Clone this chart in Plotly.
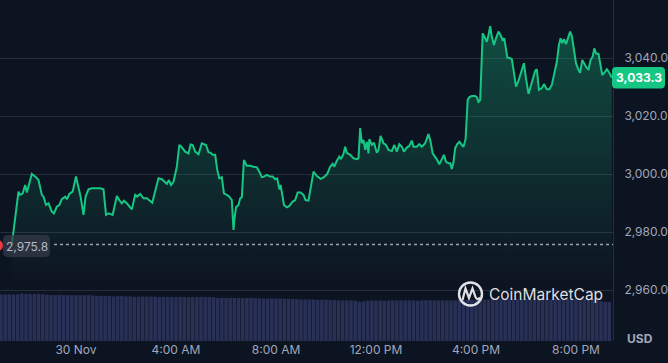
import plotly.graph_objects as go

# ---------------- data ----------------
# minutes relative to 30 Nov 00:00
price_minutes = [
    -154, -138, -134, -128, -122, -118, -106, -96, -90, -82, -78, -72, -66, -58, -53, -46, -40, -34, -26, -22, -16, -8,
    0, 6, 11, 18, 23, 30, 38, 58, 66, 72, 78, 88, 98, 104, 110, 115, 122, 134, 142, 147, 154, 162, 170, 183, 190, 198,
    206, 214, 218, 223, 228, 234, 242, 248, 254, 262, 270, 275, 280, 286, 294, 302, 312, 318, 323, 328, 334, 339, 344,
    350, 355, 362, 368, 374, 378, 380, 384, 390, 394, 398, 403, 410, 418, 426, 434, 440, 446, 451, 458, 466, 472, 478,
    483, 488, 491, 496, 499, 506, 512, 520, 526, 532, 539, 546, 551, 558, 562, 570, 578, 587, 595, 603, 610, 616, 620,
    626, 632, 636, 642, 646, 650, 658, 666, 674, 678, 682, 686, 690, 694, 698, 702, 704, 710, 715, 722, 726, 731, 738,
    744, 750, 758, 764, 770, 776, 782, 787, 794, 800, 806, 810, 818, 824, 830, 838, 846, 851, 856, 862, 867, 872, 878,
    883, 888, 894, 898, 902, 906, 910, 915, 920, 926, 930, 935, 940, 944, 950, 958, 962, 966, 970, 972, 976, 982, 986,
    990, 994, 998, 1003, 1008, 1014, 1019, 1024, 1028, 1032, 1035, 1042, 1046, 1050, 1056, 1062, 1067, 1075, 1080, 1086,
    1091, 1096, 1102, 1106, 1111, 1118, 1123, 1130, 1136, 1142, 1147, 1154, 1159, 1163, 1167, 1171, 1176, 1182, 1186,
    1190, 1195, 1200, 1206, 1210, 1215, 1220, 1226, 1230, 1235, 1240, 1244, 1248, 1254, 1258, 1263, 1270, 1274, 1280,
    1286,
]
price_values = [
    2975.8, 2994.0, 2992.9, 2993.4, 2996.3, 2993.7, 3000.1, 2999.0, 2998.0, 2992.9, 2992.3, 2989.4, 2990.0, 2987.1,
    2986.5, 2988.8, 2989.4, 2991.4, 2992.3, 2991.4, 2993.2, 2994.0,
    2999.2, 2995.7, 2992.3, 2986.0, 2992.3, 2994.8, 2995.2, 2995.2, 2994.8, 2986.0, 2986.5, 2986.0, 2992.5, 2991.1,
    2990.0, 2990.9, 2990.0, 2987.9, 2992.9, 2992.3, 2993.2, 2991.7, 2991.7, 2990.2, 2994.6, 2998.6,
    2998.3, 2997.4, 2996.7, 2998.0, 2996.3, 2997.4, 3002.6, 3010.1, 3009.3, 3007.8, 3007.2, 3010.3, 3010.1, 3007.8,
    3006.9, 3010.7, 3010.1, 3007.6, 3007.4, 3006.7, 3006.7, 3001.5, 2998.6,
    2999.0, 2993.4, 2992.9, 2992.3, 2991.1, 2980.8, 2984.2, 2988.6, 2989.4, 2991.7, 2992.1, 3004.9, 3002.9, 3002.9,
    3002.6, 3002.4, 3000.9, 2999.0, 2999.2, 2999.8, 2999.2, 2999.2, 2998.3,
    2998.6, 2994.8, 2996.3, 2992.1, 2989.4, 2988.6, 2989.1, 2990.6, 2991.1, 2993.7, 2993.7, 2992.9, 2991.1, 2990.9,
    2994.6, 3000.9, 2999.4, 2998.4, 2999.0, 3000.1, 3002.6, 3003.6, 3002.6,
    3004.7, 3006.1, 3005.2, 3007.0, 3009.5, 3007.4, 3006.7, 3005.5, 3005.2, 3005.5, 3015.9, 3010.7, 3011.8, 3008.4,
    3011.2, 3007.2, 3012.1, 3010.1, 3010.9, 3007.4, 3008.4, 3013.2, 3010.7,
    3010.1, 3008.4, 3008.0, 3010.1, 3007.8, 3010.4, 3009.5, 3007.8, 3009.2, 3009.8, 3011.6, 3009.5, 3009.5, 3010.4,
    3009.5, 3010.7, 3013.9, 3011.2, 3007.2, 3006.1, 3004.9, 3003.4, 3005.5,
    3006.7, 3004.3, 3003.8, 3003.8, 3001.8, 3004.3, 3009.0, 3010.4, 3011.2, 3010.1, 3009.5, 3012.1, 3025.6, 3026.6,
    3027.0, 3027.0, 3026.6, 3025.0, 3025.6, 3033.1, 3048.6, 3046.9, 3045.7,
    3048.0, 3051.1, 3047.4, 3044.6, 3046.9, 3049.2, 3048.0, 3046.3, 3046.9, 3043.4, 3040.3, 3040.0, 3039.7, 3036.0,
    3030.2, 3032.3, 3034.8, 3038.3, 3033.1, 3027.7,
    3030.2, 3033.1, 3035.7, 3036.2, 3029.1, 3029.7, 3031.1, 3029.3, 3029.3, 3030.8, 3033.7, 3038.8, 3044.6, 3046.9,
    3045.2, 3046.6, 3044.9, 3048.0, 3049.2,
    3047.7, 3042.9, 3038.3, 3036.0, 3035.0, 3039.4, 3038.3, 3036.6, 3036.2, 3039.4, 3040.6, 3043.4, 3041.7, 3041.5,
    3038.3, 3034.2, 3035.4, 3036.2, 3035.0,
    3033.3,
]

# volume bars every 10 minutes, starting 21:00 on 29 Nov (billions USD)
volume_minutes = list(range(-180, 1290, 10))
volume_values = [
    15.0, 15.0, 15.0, 15.0, 15.1, 15.3,
    15.2, 15.2, 15.2, 15.2, 15.1, 14.9,
    14.8, 14.8, 14.9, 14.8, 14.8, 14.8,
    14.8, 14.7, 14.8, 14.8, 14.7, 14.6,
    14.5, 14.5, 14.5, 14.4, 14.5, 14.5,
    14.4, 14.4, 14.3, 14.3, 14.4, 14.3,
    14.3, 14.3, 14.2, 14.2, 14.2, 14.2,
    14.2, 14.2, 14.2, 14.1, 14.2, 14.2,
    14.2, 14.2, 14.2, 14.1, 13.9, 13.9,
    13.9, 13.9, 13.9, 13.9, 13.8, 13.9,
    13.9, 13.8, 13.8, 13.7, 13.7, 13.7,
    13.7, 13.7, 13.6, 13.6, 13.6, 13.5,
    13.4, 13.4, 13.4, 13.4, 13.3, 13.3,
    13.3, 13.2, 13.2, 13.1, 13.1, 13.1,
    13.1, 13.0, 12.7, 12.8, 13.0, 13.1,
    13.1, 13.1, 13.0, 13.1, 13.1, 13.1,
    13.1, 13.1, 13.1, 13.1, 13.0, 13.1,
    13.1, 13.1, 13.1, 13.1, 13.1, 13.1,
    13.1, 13.1, 13.2, 13.2, 13.2, 13.2,
    13.2, 13.2, 13.3, 13.3, 13.4, 13.4,
    13.5, 13.5, 13.5, 13.5, 13.5, 13.6,
    13.6, 13.5, 13.6, 13.5, 13.5, 13.6,
    13.5, 13.6, 13.5, 13.5, 13.6, 13.5,
    13.5, 13.5, 13.5, 13.4, 13.4, 13.3,
    12.8, 12.6, 12.6,
]

tick_minutes = [0, 240, 480, 720, 960, 1200]
tick_labels = ["30 Nov", "4:00 AM", "8:00 AM", "12:00 PM", "4:00 PM", "8:00 PM"]
price_ticks = [2960, 2980, 3000, 3020, 3040]

assert len(price_minutes) == len(price_values)
assert len(volume_minutes) == len(volume_values)

# ---------------- style ----------------
BG = "#0d1421"
GREEN = "#16c784"
RED = "#ea3943"
GRID = "rgba(255,255,255,0.11)"
TXT = "#a1a7bb"
FONT = "Inter"

W, H = 668, 363
PL, PR, PT, PB = 0, 613, 0, 341  # plot area in pixels


def px(x):
    return (x - PL) / (PR - PL)


def py(y):
    return (PB - y) / (PB - PT)


def P(x, y):
    return f"{px(x):.5f},{py(y):.5f}"


def rrect(x0, y0, x1, y1, r):
    return (f"M {P(x0 + r, y0)} L {P(x1 - r, y0)} Q {P(x1, y0)} {P(x1, y0 + r)} "
            f"L {P(x1, y1 - r)} Q {P(x1, y1)} {P(x1 - r, y1)} L {P(x0 + r, y1)} "
            f"Q {P(x0, y1)} {P(x0, y1 - r)} L {P(x0, y0 + r)} Q {P(x0, y0)} {P(x0 + r, y0)} Z")


fig = go.Figure()

fig.add_trace(go.Bar(
    x=volume_minutes, y=volume_values, yaxis="y2",
    marker=dict(color="#283056", line=dict(width=0)),
    width=8.6, hoverinfo="skip", showlegend=False,
))

fig.add_trace(go.Scatter(
    x=price_minutes, y=price_values, mode="lines",
    line=dict(color=GREEN, width=2),
    fill="tozeroy",
    fillgradient=dict(type="vertical", start=2962, stop=3052,
                      colorscale=[[0, "rgba(22,199,132,0)"], [1, "rgba(22,199,132,0.32)"]]),
    hoverinfo="skip", showlegend=False,
))

x_lo = -182.4
x_hi = 1288.8
y_lo, y_hi = 2942.5, 3060.1

shapes = []
# start-price dotted reference
shapes.append(dict(type="line", xref="paper", yref="y", x0=px(54), x1=1, y0=price_values[0], y1=price_values[0],
                   line=dict(color="rgba(200,205,215,0.75)", width=1.5, dash="dot"), layer="above"))
# start label box
shapes.append(dict(type="path", xref="paper", yref="paper", path=rrect(3, 235, 50, 257, 5),
                   fillcolor="rgba(52,57,72,0.75)", line=dict(width=0), layer="above"))
# red marker at left edge
shapes.append(dict(type="circle", xref="paper", yref="paper", x0=px(-8), x1=px(3), y0=py(251), y1=py(240),
                   fillcolor=RED, line=dict(width=0), layer="above"))
# current price box
shapes.append(dict(type="path", xref="paper", yref="paper", path=rrect(612, 67, 665, 88.5, 4),
                   fillcolor=GREEN, line=dict(width=0), layer="above"))
# CoinMarketCap logo
shapes.append(dict(type="circle", xref="paper", yref="paper", x0=px(459), x1=px(482), y0=py(305.5), y1=py(282.5),
                   line=dict(color="rgba(235,237,242,0.95)", width=2.4), layer="above"))
shapes.append(dict(type="path", xref="paper", yref="paper",
                   path=(f"M {P(462.5, 300)} L {P(465.5, 288.5)} L {P(469, 298)} L {P(472.5, 288.5)} "
                         f"L {P(475.5, 297)} Q {P(477, 301)} {P(480, 297.5)}"),
                   line=dict(color="rgba(235,237,242,0.95)", width=2.2), layer="above"))

annotations = [
    dict(text=f"{price_values[0]:,.1f}", xref="paper", yref="paper", x=px(26.5), y=py(246), showarrow=False,
         xanchor="center", yanchor="middle", font=dict(family=FONT, size=12, color="#b4b9c8")),
    dict(text=f"<b>{price_values[-1]:,.1f}</b>", xref="paper", yref="paper", x=px(638.5), y=py(77.8),
         showarrow=False, xanchor="center", yanchor="middle", font=dict(family=FONT, size=12, color="#ffffff")),
    dict(text="<b>USD</b>", xref="paper", yref="paper", x=px(640), y=py(338), showarrow=False,
         xanchor="center", yanchor="middle", font=dict(family=FONT, size=12, color=TXT)),
    dict(text="CoinMarketCap", xref="paper", yref="paper", x=px(487), y=py(294.5), showarrow=False,
         xanchor="left", yanchor="middle", font=dict(family=FONT, size=15.5, color="rgba(235,237,242,0.95)")),
]

fig.update_layout(
    width=W, height=H,
    margin=dict(l=PL, r=W - PR, t=PT, b=H - PB),
    paper_bgcolor=BG, plot_bgcolor=BG,
    bargap=0.1,
    showlegend=False,
    hovermode=False,
    xaxis=dict(range=[x_lo, x_hi], tickvals=tick_minutes, ticktext=tick_labels, showgrid=False,
               zeroline=False, showline=False, ticks="", tickfont=dict(family=FONT, size=12, color=TXT),
               fixedrange=True),
    yaxis=dict(range=[y_lo, y_hi], side="right", tickvals=price_ticks, tickformat=",.1f",
               showgrid=True, gridcolor=GRID, gridwidth=1, zeroline=False,
               showline=True, linecolor=GRID, linewidth=1, ticks="", ticklabelstandoff=8,
               tickfont=dict(family=FONT, size=12, color=TXT)),
    yaxis2=dict(range=[0, 110], overlaying="y", visible=False, showgrid=False, zeroline=False),
    shapes=shapes,
    annotations=annotations,
)

fig.write_html(
    "out.html",
    config={"displayModeBar": False},
    post_script="document.body.style.margin='0';document.body.style.background='#0d1421';",
)
